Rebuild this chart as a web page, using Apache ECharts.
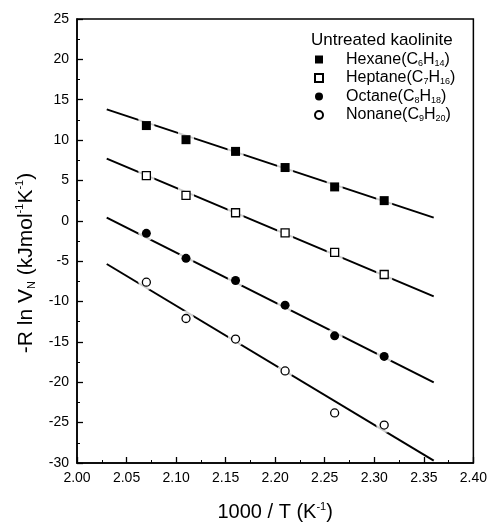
<!DOCTYPE html>
<html>
<head>
<meta charset="utf-8">
<script src="https://cdn.jsdelivr.net/npm/echarts@6/dist/echarts.min.js"></script>
<style>
  html, body { margin: 0; padding: 0; background: #fff; }
  #chart { width: 490px; height: 528px; }
</style>
</head>
<body>
<div id="chart"></div>
<script>
// measured points, 1000/T
const xVals = [2.07, 2.11, 2.16, 2.21, 2.26, 2.31]
const hexane = [11.8, 10.05, 8.6, 6.6, 4.2, 2.5]
const heptane = [5.6, 3.15, 1.0, -1.5, -3.9, -6.65]
const octane = [-1.55, -4.65, -7.4, -10.45, -14.25, -16.8]
const nonane = [-7.6, -12.1, -14.65, -18.6, -23.8, -25.3]

// fitted lines (end points)
const fitX = [2.03, 2.36]
const hexaneFit = [13.8, 0.4]
const heptaneFit = [7.7, -9.35]
const octaneFit = [0.4, -20.0]
const nonaneFit = [-5.35, -29.7]

const names = ['Hexane', 'Heptane', 'Octane', 'Nonane']
const carbon = ['6', '7', '8', '9']
const hydrogen = ['14', '16', '18', '20']

const font = 'Liberation Sans, Arial, Helvetica, sans-serif'

const chart = echarts.init(document.getElementById('chart'))

function pairs(xs, ys) {
  return xs.map((x, i) => [x, ys[i]])
}

const sets = [
  { name: 'Hexane', pts: hexane, fit: hexaneFit, symbol: 'rect', filled: true },
  { name: 'Heptane', pts: heptane, fit: heptaneFit, symbol: 'rect', filled: false },
  { name: 'Octane', pts: octane, fit: octaneFit, symbol: 'circle', filled: true },
  { name: 'Nonane', pts: nonane, fit: nonaneFit, symbol: 'circle', filled: false }
]

const series = []
sets.forEach(s => {
  series.push({
    type: 'line',
    data: pairs(fitX, s.fit),
    showSymbol: false,
    silent: true,
    z: 1,
    lineStyle: { color: '#000', width: 2 }
  })
  // white halo so the line breaks around each symbol
  series.push({
    type: 'scatter',
    data: pairs(xVals, s.pts),
    symbol: s.symbol,
    symbolSize: 16,
    silent: true,
    z: 2,
    itemStyle: { color: '#fff' }
  })
  series.push({
    name: s.name,
    type: 'scatter',
    data: pairs(xVals, s.pts),
    symbol: s.symbol,
    symbolSize: s.filled ? 9 : 8,
    z: 3,
    itemStyle: {
      color: s.filled ? '#000' : '#fff',
      borderColor: '#000',
      borderWidth: s.filled ? 0 : 1.3,
      opacity: 1
    }
  })
})

const option = {
  animation: false,
  backgroundColor: '#fff',
  title: {
    text: 'Untreated kaolinite',
    left: 311,
    top: 32,
    padding: 0,
    textStyle: { fontFamily: font, fontSize: 17, fontWeight: 'normal', color: '#000' }
  },
  legend: {
    data: names,
    orient: 'vertical',
    left: 314,
    top: 51,
    padding: 0,
    itemWidth: 8,
    itemHeight: 8,
    itemGap: 1.5,
    formatter: function (name) {
      const i = names.indexOf(name)
      return name + '(C{sub|' + carbon[i] + '}H{sub|' + hydrogen[i] + '})'
    },
    textStyle: {
      fontFamily: font,
      fontSize: 16,
      lineHeight: 17,
      color: '#000',
      padding: [0, 0, 0, 18],
      rich: {
        sub: { fontFamily: font, fontSize: 9, lineHeight: 9, verticalAlign: 'bottom', padding: [3, 0, 0, 0], color: '#000' }
      }
    }
  },
  grid: { left: 77, right: 15, top: 19, bottom: 60, show: true, borderColor: '#000', borderWidth: 1.5 },
  xAxis: {
    type: 'value',
    min: 2.0,
    max: 2.4,
    interval: 0.05,
    name: '1000 / T (K{sup|-1})',
    nameLocation: 'middle',
    nameGap: 38,
    nameTextStyle: {
      fontFamily: font, fontSize: 20, lineHeight: 22, color: '#000',
      rich: { sup: { fontFamily: font, fontSize: 11, lineHeight: 11, verticalAlign: 'top', color: '#000' } }
    },
    axisLine: { onZero: false, lineStyle: { color: '#000', width: 1.5 } },
    axisTick: { inside: true, length: 6, lineStyle: { color: '#000', width: 1.3 } },
    minorTick: { show: true, splitNumber: 2, length: 3, lineStyle: { color: '#000', width: 1 } },
    splitLine: { show: false },
    axisLabel: {
      fontFamily: font, fontSize: 14, color: '#000', margin: 8,
      formatter: v => v.toFixed(2)
    }
  },
  yAxis: {
    type: 'value',
    min: -30,
    max: 25,
    interval: 5,
    name: '-R ln V{sub|N} (kJmol{sup|-1}K{sup|-1})',
    nameLocation: 'middle',
    nameGap: 37,
    nameTextStyle: {
      fontFamily: font, fontSize: 21, lineHeight: 23, color: '#000',
      padding: [0, 44, 0, 0],
      rich: {
        sub: { fontFamily: font, fontSize: 11, lineHeight: 11, verticalAlign: 'bottom', color: '#000' },
        sup: { fontFamily: font, fontSize: 11, lineHeight: 11, verticalAlign: 'top', color: '#000' }
      }
    },
    axisLine: { show: true, onZero: false, lineStyle: { color: '#000', width: 1.5 } },
    axisTick: { show: true, inside: true, length: 6, lineStyle: { color: '#000', width: 1.3 } },
    minorTick: { show: true, splitNumber: 2, length: 3, lineStyle: { color: '#000', width: 1 } },
    splitLine: { show: false },
    axisLabel: { fontFamily: font, fontSize: 14, color: '#000', margin: 8 }
  },
  series: series
}

chart.setOption(option)
</script>
</body>
</html>
